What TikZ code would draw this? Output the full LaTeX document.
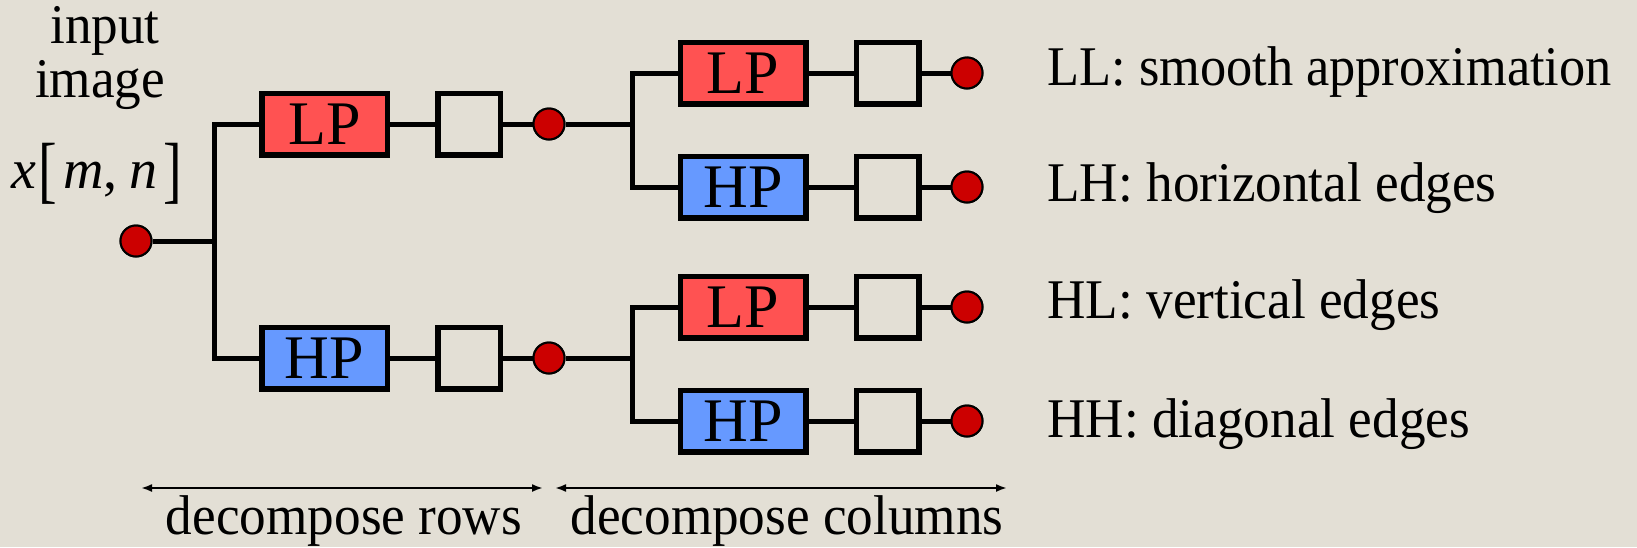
\documentclass[tikz,border=0pt]{standalone}
\usepackage{fontspec}
\setmainfont{Liberation Serif}
\usetikzlibrary{arrows.meta}
\definecolor{bgpaper}{HTML}{E3DFD5}
\definecolor{lpred}{HTML}{FF5252}
\definecolor{hpblue}{HTML}{6699FF}
\definecolor{dotred}{HTML}{CC0000}
% slightly condensed label text
\newcommand\narrowtxt[2][0.95]{\scalebox{#1}[1]{#2}}
\newcommand\tallbr[1]{\raisebox{-0.12em}{\scalebox{1}[1.32]{#1}}}
\begin{document}
\begin{tikzpicture}[x=0.5pt,y=-0.5pt,
  filt/.style={draw=black,line width=2.75pt,minimum width=62.75pt,minimum height=30.75pt,
    inner sep=0pt,font=\fontsize{31pt}{31pt}\selectfont},
  lpbox/.style={filt,fill=lpred},
  hpbox/.style={filt,fill=hpblue},
  sbox/.style={draw=black,line width=2.75pt,minimum width=31.25pt,minimum height=30.75pt,inner sep=0pt},
  dot/.style={circle,draw=black,line width=1pt,fill=dotred,minimum size=15.5pt,inner sep=0pt},
  wire/.style={line width=2.5pt,line join=miter},
  span/.style={line width=1pt,{Latex[length=5.5pt,width=4pt]}-{Latex[length=5.5pt,width=4pt]}},
  lbl/.style={inner sep=0pt,font=\fontsize{28pt}{28pt}\selectfont}]
% paper background
\fill[bgpaper] (0,0) rectangle (1637,547);
\useasboundingbox (0,0) rectangle (1637,547);

% input label
\node[lbl,anchor=base] (tin) at (105,43) {\narrowtxt{input}};
\node[lbl,anchor=base] (timg) at (100,97) {\narrowtxt{image}};
\node[lbl,anchor=base] (tx) at (97,188) {\itshape x\upshape\hspace{1pt}\tallbr{[}\hspace{3pt}\itshape m\upshape,\hspace{6pt}\itshape n\upshape\hspace{3pt}\tallbr{]}};

% input sample and first split (rows)
\node[dot] (in) at (136,241) {};
\coordinate (t1) at (214,241);
\node[lpbox] (lp1) at (324.5,124) {LP};
\node[hpbox] (hp1) at (324.5,358) {HP};
\node[sbox] (s1) at (469,124) {};
\node[sbox] (s2) at (469,358) {};
\node[dot] (d1) at (549,124) {};
\node[dot] (d2) at (549,358) {};

% second split (columns)
\coordinate (t2) at (632,124);
\coordinate (t3) at (632,358);
\node[lpbox] (lp2a) at (743,73) {LP};
\node[hpbox] (hp2a) at (743,187) {HP};
\node[lpbox] (lp2b) at (743,307) {LP};
\node[hpbox] (hp2b) at (743,421) {HP};
\node[sbox] (s3) at (887.5,73) {};
\node[sbox] (s4) at (887.5,187) {};
\node[sbox] (s5) at (887.5,307) {};
\node[sbox] (s6) at (887.5,421) {};
\node[dot] (o1) at (967,73) {};
\node[dot] (o2) at (967,187) {};
\node[dot] (o3) at (967,307) {};
\node[dot] (o4) at (967,421) {};

% wiring
\draw[wire] (in) -- (t1);
\draw[wire] (lp1.west) -| (t1) |- (hp1.west);
\draw[wire] (lp1) -- (s1) -- (d1);
\draw[wire] (hp1) -- (s2) -- (d2);
\draw[wire] (d1) -- (t2);
\draw[wire] (d2) -- (t3);
\draw[wire] (lp2a.west) -| (t2) |- (hp2a.west);
\draw[wire] (lp2b.west) -| (t3) |- (hp2b.west);
\draw[wire] (lp2a) -- (s3) -- (o1);
\draw[wire] (hp2a) -- (s4) -- (o2);
\draw[wire] (lp2b) -- (s5) -- (o3);
\draw[wire] (hp2b) -- (s6) -- (o4);

% redraw dots over wire ends
\foreach \d in {in,d1,d2,o1,o2,o3,o4}{\node[dot] at (\d) {};}

% subband labels
\node[lbl,anchor=base west] (ll) at (1047,85) {\narrowtxt[0.935]{LL: smooth approximation}};
\node[lbl,anchor=base west] (lh) at (1047,201) {\narrowtxt{LH: horizontal edges}};
\node[lbl,anchor=base west] (hl) at (1047,318) {\narrowtxt{HL: vertical edges}};
\node[lbl,anchor=base west] (hh) at (1047,437) {\narrowtxt{HH: diagonal edges}};

% stage spans
\coordinate (a1l) at (141,488);
\coordinate (a1r) at (543,488);
\coordinate (a2l) at (555,488);
\coordinate (a2r) at (1007,488);
\draw[span] (a1l) -- (a1r);
\draw[span] (a2l) -- (a2r);
\node[lbl,anchor=base] (rows) at (344,534) {\narrowtxt{decompose rows}};
\node[lbl,anchor=base] (cols) at (787,534) {\narrowtxt{decompose columns}};
\end{tikzpicture}
\end{document}
